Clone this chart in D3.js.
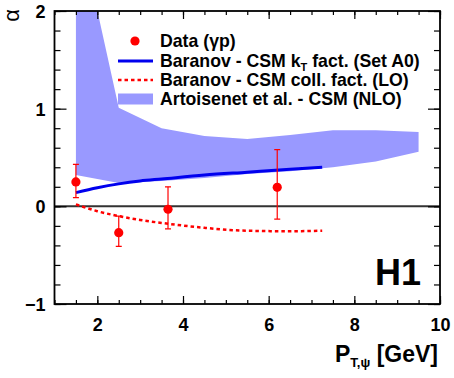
<!DOCTYPE html>
<html>
<head>
<meta charset="utf-8">
<script src="https://cdn.jsdelivr.net/npm/d3@7"></script>
<style>
  body { margin: 0; background: #fff; }
  text { font-family: "Liberation Sans", Arial, sans-serif; }
</style>
</head>
<body>
<div id="chart"></div>
<script>
// data points (gamma p)
var dataPt = [1.5, 2.5, 3.65, 6.2];
var dataAlpha = [0.25, -0.27, -0.03, 0.195];
var dataErrUp = [0.18, 0.17, 0.23, 0.385];
var dataErrDown = [0.16, 0.14, 0.20, 0.325];

// Baranov kT factorisation (blue)
var ktPt = [1.5, 2.0, 2.5, 3.0, 3.5, 4.5, 5.5, 6.5, 7.25];
var ktAlpha = [0.14, 0.19, 0.23, 0.26, 0.28, 0.32, 0.35, 0.38, 0.40];

// Baranov collinear LO (red dashed)
var collPt = [1.5, 2.0, 2.5, 3.0, 3.5, 4.5, 5.5, 6.5, 7.25];
var collAlpha = [0.02, -0.05, -0.10, -0.14, -0.17, -0.22, -0.25, -0.255, -0.25];

// Artoisenet et al. NLO band
var bandPt = [1.5, 2.5, 3.5, 4.5, 5.5, 6.5, 7.5, 8.5, 9.5];
var bandLow = [0.32, 0.24, 0.26, 0.29, 0.33, 0.36, 0.40, 0.46, 0.56];
var bandHigh = [3.0, 1.01, 0.80, 0.72, 0.69, 0.73, 0.78, 0.78, 0.76];

var xMinor = d3.range(1, 10.01, 0.5);
var xMajor = [2, 4, 6, 8, 10];
var yMinor = d3.range(-1, 2.01, 0.2);
var yMajor = [-1, 0, 1, 2];

var legendLabels = ['Data (γp)', 'Baranov - CSM k_T fact. (Set A0)',
  'Baranov - CSM coll. fact. (LO)', 'Artoisenet et al. - CSM (NLO)'];

var width = 454, height = 378;
var plotLeft = 54.5, plotRight = 440, plotTop = 11, plotBottom = 304;

var svg = d3.select('#chart').append('svg')
  .attr('width', width)
  .attr('height', height);

var x = d3.scaleLinear().domain([1, 10]).range([plotLeft, plotRight]);
var y = d3.scaleLinear().domain([-1, 2]).range([plotBottom, plotTop]);

svg.append('clipPath').attr('id', 'plotclip')
  .append('rect')
  .attr('x', plotLeft).attr('y', plotTop)
  .attr('width', plotRight - plotLeft).attr('height', plotBottom - plotTop);

var plot = svg.append('g').attr('clip-path', 'url(#plotclip)');

// NLO band
var area = d3.area()
  .x(function(d, i) { return x(bandPt[i]); })
  .y0(function(d, i) { return y(bandLow[i]); })
  .y1(function(d, i) { return y(bandHigh[i]); });

plot.append('path')
  .datum(bandPt)
  .attr('d', area)
  .attr('fill', '#9999ff');

// zero line
plot.append('line')
  .attr('x1', plotLeft).attr('x2', plotRight)
  .attr('y1', y(0)).attr('y2', y(0))
  .attr('stroke', '#333')
  .attr('stroke-width', 2);

var line = d3.line()
  .x(function(d) { return x(d[0]); })
  .y(function(d) { return y(d[1]); })
  .curve(d3.curveMonotoneX);

plot.append('path')
  .datum(ktPt.map(function(p, i) { return [p, ktAlpha[i]]; }))
  .attr('d', line)
  .attr('fill', 'none')
  .attr('stroke', '#0000ee')
  .attr('stroke-width', 3);

plot.append('path')
  .datum(collPt.map(function(p, i) { return [p, collAlpha[i]]; }))
  .attr('d', line)
  .attr('fill', 'none')
  .attr('stroke', '#ff0000')
  .attr('stroke-width', 2.5)
  .attr('stroke-dasharray', '3.5,3');

// data points with error bars
var pts = plot.selectAll('.pt')
  .data(dataPt).enter()
  .append('g')
  .attr('class', 'pt');

pts.append('line')
  .attr('x1', function(d) { return x(d); })
  .attr('x2', function(d) { return x(d); })
  .attr('y1', function(d, i) { return y(dataAlpha[i] + dataErrUp[i]); })
  .attr('y2', function(d, i) { return y(dataAlpha[i] - dataErrDown[i]); })
  .attr('stroke', '#ff0000')
  .attr('stroke-width', 1.2);

[function(i) { return dataAlpha[i] + dataErrUp[i]; },
 function(i) { return dataAlpha[i] - dataErrDown[i]; }].forEach(function(f) {
  pts.append('line')
    .attr('x1', function(d) { return x(d) - 3; })
    .attr('x2', function(d) { return x(d) + 3; })
    .attr('y1', function(d, i) { return y(f(i)); })
    .attr('y2', function(d, i) { return y(f(i)); })
    .attr('stroke', '#ff0000')
    .attr('stroke-width', 1.2);
});

pts.append('circle')
  .attr('cx', function(d) { return x(d); })
  .attr('cy', function(d, i) { return y(dataAlpha[i]); })
  .attr('r', 4.6)
  .attr('fill', '#ff0000');

// axes: ticks inward on all four sides
function drawAxis(axis, transform, values, size, labels) {
  var g = svg.append('g')
    .attr('transform', transform)
    .call(axis.tickValues(values).tickSize(size).tickSizeOuter(0)
      .tickFormat(labels ? d3.format('d') : ''));
  g.select('.domain').remove();
  g.selectAll('.tick line').attr('stroke', '#000').attr('stroke-width', 1.2);
  return g;
}

drawAxis(d3.axisBottom(x), 'translate(0,' + plotBottom + ')', xMinor, -4, false);
drawAxis(d3.axisTop(x), 'translate(0,' + plotTop + ')', xMinor, -4, false);
drawAxis(d3.axisLeft(y), 'translate(' + plotLeft + ',0)', yMinor, -6, false);
drawAxis(d3.axisRight(y), 'translate(' + plotRight + ',0)', yMinor, -6, false);

var xb = drawAxis(d3.axisBottom(x), 'translate(0,' + plotBottom + ')', xMajor, -8, true);
drawAxis(d3.axisTop(x), 'translate(0,' + plotTop + ')', xMajor, -8, false);
var yl = drawAxis(d3.axisLeft(y), 'translate(' + plotLeft + ',0)', yMajor, -12, true);
drawAxis(d3.axisRight(y), 'translate(' + plotRight + ',0)', yMajor, -12, false);

xb.selectAll('text')
  .attr('y', 14)
  .attr('dy', '0.71em')
  .style('font-size', '18px')
  .style('font-weight', 'bold')
  .attr('fill', '#000');

yl.selectAll('text')
  .attr('x', -9)
  .attr('dy', '0.36em')
  .style('font-size', '18px')
  .style('font-weight', 'bold')
  .attr('fill', '#000');

// frame
svg.append('rect')
  .attr('x', plotLeft).attr('y', plotTop)
  .attr('width', plotRight - plotLeft).attr('height', plotBottom - plotTop)
  .attr('fill', 'none')
  .attr('stroke', '#000')
  .attr('stroke-width', 1.8);

// axis titles
var xt = svg.append('text')
  .attr('x', 438).attr('y', 362)
  .attr('text-anchor', 'end')
  .style('font-size', '23px')
  .style('font-weight', 'bold');
xt.append('tspan').text('P');
xt.append('tspan').attr('dy', 5).style('font-size', '13px').text('T,ψ');
xt.append('tspan').attr('dy', -5).text(' [GeV]');

svg.append('text')
  .attr('transform', 'translate(19,9) rotate(-90)')
  .attr('text-anchor', 'end')
  .style('font-size', '22px')
  .text('α');

// H1 label
svg.append('text')
  .attr('x', 375).attr('y', 285)
  .style('font-size', '36px')
  .style('font-weight', 'bold')
  .text('H1');

// legend
var legendY = [41, 61, 80, 99];
var lg = svg.append('g');

lg.append('circle').attr('cx', 135).attr('cy', legendY[0]).attr('r', 4.6).attr('fill', '#ff0000');
lg.append('line').attr('x1', 118).attr('x2', 153)
  .attr('y1', legendY[1]).attr('y2', legendY[1])
  .attr('stroke', '#0000ee').attr('stroke-width', 3);
lg.append('line').attr('x1', 118).attr('x2', 153)
  .attr('y1', legendY[2]).attr('y2', legendY[2])
  .attr('stroke', '#ff0000').attr('stroke-width', 2.5)
  .attr('stroke-dasharray', '3.5,3');
lg.append('rect').attr('x', 118).attr('y', legendY[3] - 5.5)
  .attr('width', 35).attr('height', 11).attr('fill', '#9999ff');

legendLabels.forEach(function(label, i) {
  var t = lg.append('text')
    .attr('x', 160).attr('y', legendY[i] + 6)
    .style('font-size', '17.7px')
    .style('font-weight', 'bold');
  var parts = label.split('_T');
  t.append('tspan').text(parts[0]);
  if (parts.length > 1) {
    t.append('tspan').attr('dy', 4).style('font-size', '11px').text('T');
    t.append('tspan').attr('dy', -4).text(parts[1]);
  }
});
</script>
</body>
</html>
